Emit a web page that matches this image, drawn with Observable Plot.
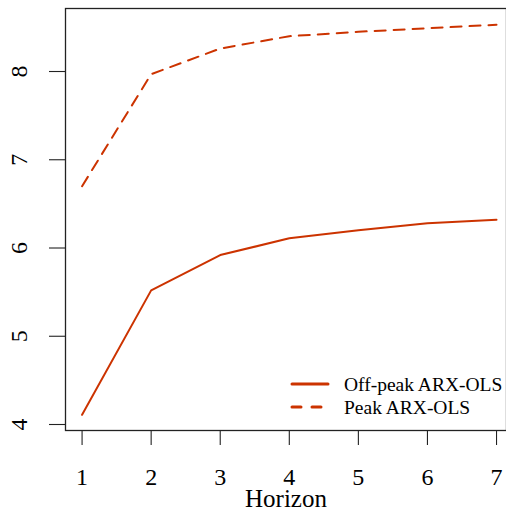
<!DOCTYPE html>
<html><head><meta charset="utf-8">
<script src="https://cdn.jsdelivr.net/npm/d3@7"></script>
<script src="https://cdn.jsdelivr.net/npm/@observablehq/plot@0.6"></script>
<style>body{margin:0;overflow:hidden;background:#fff}</style>
</head><body><div id="chart"></div>
<script>
const horizons = [1, 2, 3, 4, 5, 6, 7];
const offPeak = [4.11, 5.52, 5.92, 6.11, 6.20, 6.28, 6.32];
const peak = [6.70, 7.97, 8.26, 8.40, 8.45, 8.49, 8.53];
const seriesNames = ["Off-peak ARX-OLS", "Peak ARX-OLS"];
const xTicks = [1, 2, 3, 4, 5, 6, 7];
const yTicks = [4, 5, 6, 7, 8];
const xLabel = "Horizon";

const color = "#cc3300";
const font = "'Liberation Serif', 'Times New Roman', serif";

const rows = [
  ...horizons.map((h, i) => ({h, v: offPeak[i], s: seriesNames[0]})),
  ...horizons.map((h, i) => ({h, v: peak[i], s: seriesNames[1]}))
];

const plot = Plot.plot({
  width: 506, height: 513,
  marginLeft: 65, marginRight: 0, marginTop: 8, marginBottom: 83,
  x: {domain: [0.76, 7.24], range: [65, 512.6]},
  y: {domain: [3.932, 8.714], range: [430, 8]},
  style: {background: "white", color: "black", overflow: "hidden"},
  marks: [
    Plot.frame({stroke: "#222", strokeWidth: 1.3}),
    Plot.axisX(xTicks, {tickSize: 15, tickPadding: 22, fontSize: 24, fontFamily: font, stroke: "#222", strokeWidth: 1.1, label: null}),
    Plot.axisY(yTicks, {tickSize: 16, tickFormat: () => "", stroke: "#222", strokeWidth: 1.1, label: null}),
    Plot.text(yTicks, {y: d => d, text: d => String(d), frameAnchor: "left", dx: -39, rotate: -90,
      textAnchor: "middle", lineAnchor: "bottom", fontSize: 24, fontFamily: font, fill: "black"}),
    Plot.text([xLabel], {text: d => d, frameAnchor: "bottom", dy: 76, lineAnchor: "bottom", fontSize: 25, fontFamily: font, fill: "black"}),
    Plot.line(rows.filter(d => d.s === seriesNames[0]), {x: "h", y: "v", stroke: color, strokeWidth: 2}),
    Plot.line(rows.filter(d => d.s === seriesNames[1]), {x: "h", y: "v", stroke: color, strokeWidth: 2, strokeDasharray: "11 8"})
  ]
});

// legend
const svg = d3.select(plot);
svg.style("font-family", font);
const lg = svg.append("g").attr("font-size", 19.5).attr("text-anchor", "start");
seriesNames.forEach((name, i) => {
  const y = 384 + i * 23;
  lg.append("line").attr("x1", 292).attr("x2", 328).attr("y1", y).attr("y2", y)
    .attr("stroke", color).attr("stroke-width", 3)
    .attr("stroke-linecap", "round")
    .attr("stroke-dasharray", i === 1 ? "9 11" : null);
  lg.append("text").attr("x", 344).attr("y", y + 7).attr("fill", "black")
    .style("font-family", font).attr("text-anchor", "start").text(name);
});
svg.selectAll("text").style("font-family", font);

document.getElementById("chart").appendChild(plot);
</script>
</body></html>
